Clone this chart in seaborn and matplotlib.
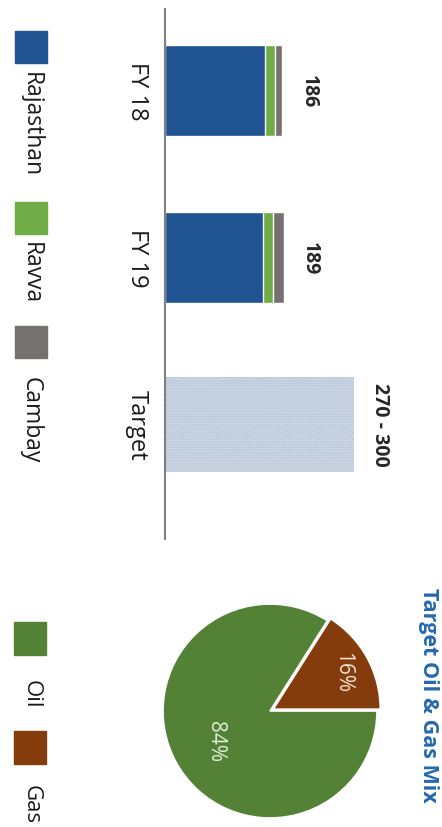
import numpy as np
import pandas as pd
import seaborn as sns
import matplotlib.pyplot as plt
from matplotlib.patches import Rectangle

# Production (kboepd) by asset, stacked
categories = ["FY 18", "FY 19", "Target"]
series_names = ["Rajasthan", "Ravva", "Cambay"]
rajasthan = [159, 155]
ravva = [16, 16]
cambay = [11, 18]
target_low = 270
target_high = 300

# Target oil & gas mix (%)
mix_labels = ["Gas", "Oil"]
mix_values = [16, 84]

series_colors = ["#1f5391", "#70ad47", "#767171"]
mix_colors = {"Gas": "#843c0c", "Oil": "#538135"}
target_color = "#cdd8e4"

W, H = 442, 828

sns.set_style("white")
plt.rcParams["font.family"] = ["Open Sans", "DejaVu Sans"]


def fx(x):
    return x / W


def fy(y):
    return 1 - y / H


fig = plt.figure(figsize=(W / 100, H / 100), dpi=100)

# ---- stacked bars (drawn rotated: bars grow to the right, text reads downward)
ax = fig.add_axes([fx(165), fy(540), 277 / W, 530 / H])

df = pd.DataFrame(
    {"year": categories[:2], "Rajasthan": rajasthan, "Ravva": ravva, "Cambay": cambay}
)
df["upto_ravva"] = df["Rajasthan"] + df["Ravva"]
df["total"] = df["upto_ravva"] + df["Cambay"]

for col, color in zip(["total", "upto_ravva", "Rajasthan"], series_colors[::-1]):
    sns.barplot(
        data=df, x=col, y="year", orient="h", color=color, saturation=1,
        errorbar=None, width=0.55, ax=ax,
    )

ax.barh(
    2, target_high, height=0.57, color=target_color, hatch="......",
    edgecolor="#b3c3d4", linewidth=0,
)

labels = [str(v) for v in df["total"]] + [f"{target_low} - {target_high}"]
ends = list(df["total"]) + [target_high]
for i, (lab, end) in enumerate(zip(labels, ends)):
    ax.annotate(
        lab, xy=(end, i), xytext=(19, 0), textcoords="offset points",
        rotation=-90, ha="center", va="center", fontsize=14,
        fontweight="bold", color="#262626",
    )

ax.set_xlim(0, 440)
ax.set_ylim(2.69, -0.49)
ax.set_yticks(range(len(categories)))
ax.set_yticklabels(categories)
for t in ax.get_yticklabels():
    t.set_rotation(-90)
    t.set_ha("center")
    t.set_va("center")
    t.set_fontsize(17)
    t.set_color("#1a1a1a")
ax.tick_params(axis="y", length=0, pad=20)
ax.set_xticks([])
ax.set_xlabel("")
ax.set_ylabel("")
for side in ["top", "right", "bottom"]:
    ax.spines[side].set_visible(False)
ax.spines["left"].set_color("#7f7f7f")
ax.spines["left"].set_linewidth(1.5)

# legend for the bars
sq_y = [32, 203, 327]
txt_y = [72, 242, 377]
for name, color, y0, ty in zip(series_names, series_colors, sq_y, txt_y):
    fig.patches.append(
        Rectangle((fx(15), fy(y0 + 32)), 32 / W, 32 / H, color=color,
                  transform=fig.transFigure)
    )
    fig.text(fx(31), fy(ty), name, rotation=-90, ha="center", va="top",
             fontsize=16.5, color="#1a1a1a")

# ---- pie chart
pax = fig.add_axes([fx(270 - 115), fy(712 + 115), 230 / W, 230 / H])
wedges, _, autotexts = pax.pie(
    mix_values, colors=[mix_colors[k] for k in mix_labels], startangle=0,
    counterclock=True, explode=[0.035, 0], autopct="%d%%",
    wedgeprops=dict(edgecolor="white", linewidth=1.2),
    textprops=dict(rotation=-90, fontsize=15),
)
for w, t, dist, col in zip(wedges, autotexts, [0.74, 0.58], ["#f6e3d6", "#e2efd9"]):
    ang = np.deg2rad((w.theta1 + w.theta2) / 2)
    cx, cy = w.center
    t.set_position((cx + dist * np.cos(ang), cy + dist * np.sin(ang)))
    t.set_color(col)
    t.set_ha("center")
    t.set_va("center")
pax.set_xlim(-1.075, 1.075)
pax.set_ylim(-1.075, 1.075)
pax.set_aspect("equal")
pax.axis("off")

fig.text(fx(428), fy(695), "Target Oil & Gas Mix", rotation=-90, ha="center",
         va="center", fontsize=15.5, fontweight="bold", color="#2468b0")

# legend for the pie
for name, y0, ty in zip(["Oil", "Gas"], [623, 732], [680, 785]):
    fig.patches.append(
        Rectangle((fx(14), fy(y0 + 33)), 32 / W, 33 / H, color=mix_colors[name],
                  transform=fig.transFigure)
    )
    fig.text(fx(31), fy(ty), name, rotation=-90, ha="center", va="top",
             fontsize=16, color="#1a1a1a")

fig.savefig("out.png", dpi=100, facecolor="white")
